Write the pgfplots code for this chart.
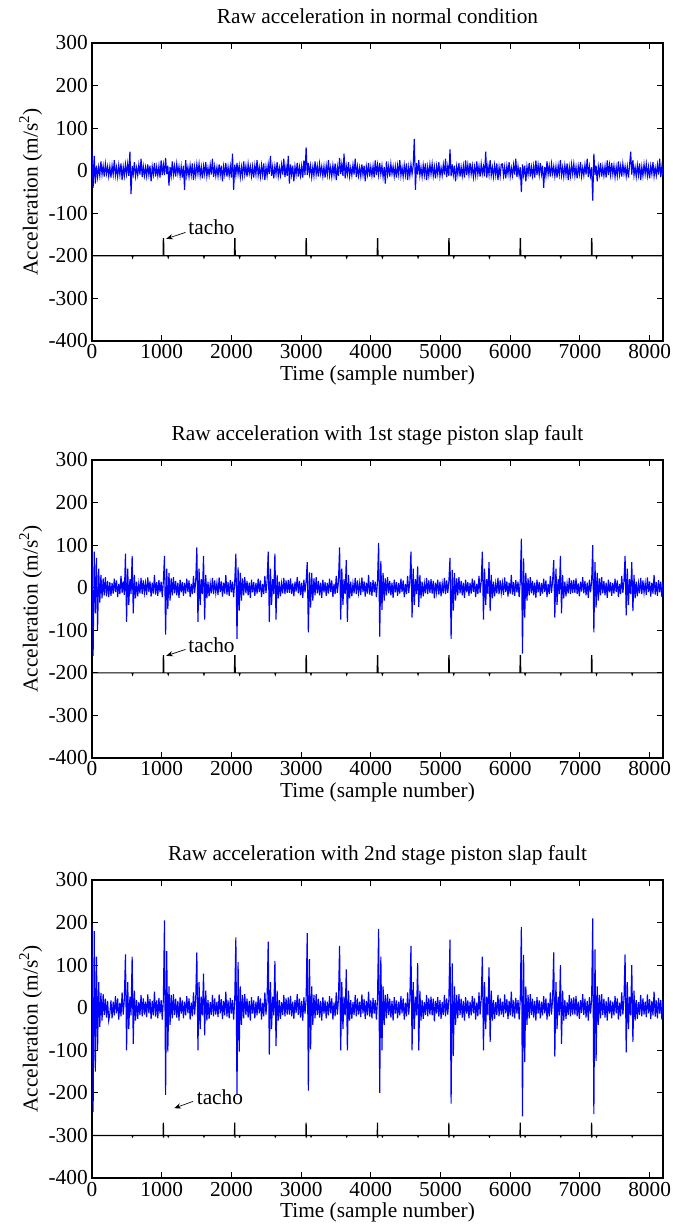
\documentclass[border=0pt]{standalone}
\usepackage{pgfplots}
\pgfplotsset{compat=1.18}
\usepackage{pgfplotstable}
\usepackage{fontspec}
\setmainfont{Liberation Serif}
\usetikzlibrary{arrows.meta}

% signal values, one every 16 samples (x = 16 * index)
\pgfplotstableread[row sep=\\]{y\\
50\\-40\\35\\-30\\12\\-15\\9\\-12\\22\\-9\\11\\-14\\16\\-7\\10\\-13\\
10\\-16\\12\\-9\\25\\-11\\8\\-14\\13\\-10\\17\\-22\\9\\-12\\15\\-8\\
16\\-12\\45\\-55\\11\\-8\\20\\-13\\7\\-11\\14\\-9\\28\\-15\\10\\-12\\
8\\-13\\15\\-10\\12\\-25\\10\\-9\\18\\-14\\9\\-12\\11\\-16\\24\\-10\\
14\\-10\\30\\-8\\12\\-35\\9\\-12\\22\\-9\\11\\-14\\16\\-7\\10\\-13\\
10\\-16\\12\\-45\\25\\-11\\8\\-14\\13\\-10\\17\\-22\\9\\-12\\15\\-8\\
16\\-12\\9\\-18\\11\\-8\\20\\-13\\7\\-11\\14\\-9\\28\\-15\\10\\-12\\
8\\-13\\15\\-10\\12\\-25\\10\\-9\\18\\-14\\9\\-12\\11\\-16\\40\\-45\\
14\\-10\\18\\-8\\12\\-15\\9\\-12\\22\\-9\\11\\-14\\16\\-7\\10\\-13\\
10\\-16\\12\\-9\\25\\-11\\8\\-14\\13\\-10\\17\\-22\\9\\-12\\15\\-8\\
35\\-12\\9\\-18\\11\\-8\\20\\-13\\7\\-11\\14\\-9\\28\\-15\\10\\-12\\
35\\-30\\15\\-10\\12\\-25\\10\\-9\\18\\-14\\9\\-12\\11\\-16\\24\\-10\\
55\\-10\\18\\-8\\12\\-15\\9\\-12\\22\\-9\\11\\-14\\16\\-7\\10\\-13\\
10\\-16\\12\\-9\\25\\-11\\8\\-14\\13\\-10\\17\\-22\\9\\-12\\30\\-8\\
16\\-12\\40\\-18\\11\\-8\\20\\-13\\7\\-11\\14\\-9\\28\\-15\\10\\-12\\
8\\-13\\15\\-10\\12\\-25\\10\\-9\\18\\-14\\9\\-12\\11\\-16\\24\\-10\\
14\\-10\\18\\-8\\12\\-15\\9\\-30\\22\\-9\\11\\-14\\16\\-7\\10\\-13\\
10\\-16\\12\\-9\\25\\-11\\8\\-14\\13\\-10\\17\\-22\\9\\-12\\15\\-8\\
12\\75\\-45\\18\\-9\\25\\-11\\8\\-14\\13\\-10\\17\\-22\\9\\-12\\15\\
-8\\16\\-12\\9\\-18\\11\\-8\\20\\-13\\7\\-11\\14\\-9\\28\\-15\\10\\
-12\\50\\-13\\15\\-10\\12\\-25\\10\\-9\\18\\-14\\9\\-12\\11\\-16\\24\\
-10\\14\\-10\\18\\-8\\12\\-15\\9\\-12\\22\\-9\\11\\-14\\16\\-7\\10\\
-13\\45\\-16\\12\\-9\\25\\-11\\8\\-14\\13\\-10\\17\\-22\\9\\-12\\15\\
16\\-12\\9\\-18\\11\\-8\\20\\-13\\7\\-11\\14\\-9\\28\\-15\\10\\-12\\
8\\-50\\15\\-10\\12\\-25\\10\\-9\\18\\-14\\9\\-12\\11\\-16\\24\\-10\\
14\\-10\\18\\-8\\12\\-40\\9\\-12\\22\\-9\\11\\-14\\16\\-7\\10\\-13\\
10\\-16\\12\\-9\\25\\-11\\8\\-14\\13\\-10\\17\\-22\\9\\-12\\15\\-8\\
16\\-12\\9\\-18\\11\\-8\\20\\-13\\7\\-11\\14\\-9\\28\\-15\\10\\-12\\
8\\-70\\40\\-10\\12\\-25\\10\\-9\\18\\-14\\9\\-12\\11\\-16\\24\\-10\\
14\\-10\\18\\-8\\12\\-15\\9\\-12\\22\\-9\\11\\-14\\16\\-7\\10\\-13\\
10\\-16\\12\\45\\-9\\25\\-11\\8\\-14\\13\\-10\\17\\-22\\9\\-12\\15\\
-8\\16\\-12\\9\\-18\\11\\-8\\20\\-13\\7\\-11\\14\\-9\\28\\-15\\10\\
-12\\}\sigA

\pgfplotstableread[row sep=\\]{y\\
90\\-160\\85\\-60\\70\\-100\\45\\-35\\30\\-25\\22\\-18\\25\\-20\\16\\-22\\
13\\-19\\11\\-14\\21\\-10\\17\\-22\\9\\-15\\28\\-12\\15\\-17\\80\\-80\\
45\\-40\\20\\-15\\75\\-60\\30\\-25\\14\\-20\\10\\-13\\23\\-15\\17\\-12\\
11\\-17\\24\\-10\\15\\-21\\12\\-14\\30\\-16\\13\\-19\\18\\-11\\14\\-22\\
15\\75\\-110\\45\\-50\\35\\-30\\22\\-18\\25\\-13\\16\\-18\\12\\-24\\19\\
-11\\13\\-19\\11\\-14\\21\\-10\\17\\-22\\9\\-15\\28\\-12\\15\\95\\-80\\
45\\-40\\20\\-15\\75\\-75\\30\\-25\\14\\-20\\10\\-13\\23\\-15\\17\\-12\\
11\\-17\\24\\-10\\15\\-21\\12\\-14\\30\\-16\\13\\-19\\18\\-11\\14\\-22\\
15\\80\\-120\\48\\-54\\35\\-30\\22\\-18\\25\\-13\\16\\-18\\12\\-24\\19\\
-11\\13\\-19\\11\\-14\\21\\-10\\17\\-22\\9\\-15\\28\\-12\\15\\85\\-80\\
45\\-40\\20\\-15\\80\\-75\\30\\-25\\14\\-20\\10\\-13\\23\\-15\\17\\-12\\
18\\-12\\22\\-15\\10\\-20\\14\\-9\\25\\-13\\16\\-18\\12\\-24\\19\\-11\\
15\\60\\-105\\36\\-47\\35\\-30\\22\\-18\\25\\-13\\16\\-18\\12\\-24\\19\\
-11\\13\\-19\\11\\-14\\21\\-10\\17\\-22\\9\\-15\\28\\-12\\15\\95\\-75\\
45\\-40\\20\\-15\\65\\-80\\30\\-25\\14\\-20\\10\\-13\\23\\-15\\17\\-12\\
11\\-17\\24\\-10\\15\\-21\\12\\-14\\30\\-16\\13\\-19\\18\\-11\\14\\-22\\
15\\105\\-115\\63\\-52\\35\\-30\\22\\-18\\25\\-13\\16\\-18\\12\\-24\\19\\
-11\\13\\-19\\11\\-14\\21\\-10\\17\\-22\\9\\-15\\28\\-12\\15\\85\\-70\\
45\\-40\\20\\-15\\50\\-45\\30\\-25\\14\\-20\\10\\-13\\23\\-15\\17\\-12\\
20\\-14\\16\\-25\\12\\-11\\19\\-16\\14\\-20\\10\\-13\\23\\-15\\17\\-12\\
15\\70\\-120\\42\\-54\\35\\-30\\22\\-18\\25\\-13\\16\\-18\\12\\-24\\19\\
-11\\13\\-19\\11\\-14\\21\\-10\\17\\-22\\9\\-15\\28\\-12\\15\\85\\-75\\
45\\-40\\20\\-15\\60\\-55\\30\\-25\\14\\-20\\10\\-13\\23\\-15\\17\\-12\\
11\\-17\\24\\-10\\15\\-21\\12\\-14\\30\\-16\\13\\-19\\18\\-11\\14\\-22\\
15\\115\\-155\\69\\-70\\35\\-30\\22\\-18\\25\\-13\\16\\-18\\12\\-24\\19\\
-11\\13\\-19\\11\\-14\\21\\-10\\17\\-22\\9\\-15\\28\\-12\\15\\65\\-70\\
45\\-40\\20\\-15\\75\\-60\\30\\-25\\14\\-20\\10\\-13\\23\\-15\\17\\-12\\
18\\-12\\22\\-15\\10\\-20\\14\\-9\\25\\-13\\16\\-18\\12\\-24\\19\\-11\\
15\\100\\-105\\60\\-47\\35\\-30\\22\\-18\\25\\-13\\16\\-18\\12\\-24\\19\\
-11\\13\\-19\\11\\-14\\21\\-10\\17\\-22\\9\\-15\\28\\-12\\15\\75\\-65\\
45\\-40\\20\\-15\\60\\-55\\30\\-25\\14\\-20\\10\\-13\\23\\-15\\17\\-12\\
11\\-17\\24\\-10\\15\\-21\\12\\-14\\30\\-16\\13\\-19\\18\\-11\\14\\-22\\
15\\}\sigB

\pgfplotstableread[row sep=\\]{y\\
195\\-245\\180\\-150\\120\\-100\\60\\-45\\35\\-30\\32\\-17\\21\\-23\\16\\-30\\
-14\\17\\-25\\14\\-18\\27\\-13\\22\\-28\\12\\-20\\36\\-16\\20\\125\\-100\\
60\\-50\\26\\-18\\120\\-85\\40\\-30\\18\\-26\\13\\-17\\30\\-20\\22\\-16\\
14\\-22\\31\\-13\\20\\-27\\16\\-18\\38\\-21\\17\\-25\\23\\-14\\18\\-28\\
20\\205\\-205\\133\\-103\\50\\-40\\30\\-25\\32\\-17\\21\\-23\\16\\-30\\25\\
-14\\17\\-25\\14\\-18\\27\\-13\\22\\-28\\12\\-20\\36\\-16\\20\\130\\-100\\
60\\-50\\26\\-18\\80\\-65\\40\\-30\\18\\-26\\13\\-17\\30\\-20\\22\\-16\\
14\\-22\\31\\-13\\20\\-27\\16\\-18\\38\\-21\\17\\-25\\23\\-14\\18\\-28\\
20\\165\\-205\\107\\-103\\50\\-40\\30\\-25\\32\\-17\\21\\-23\\16\\-30\\25\\
-14\\17\\-25\\14\\-18\\27\\-13\\22\\-28\\12\\-20\\36\\-16\\20\\155\\-110\\
60\\-50\\26\\-18\\110\\-90\\40\\-30\\18\\-26\\13\\-17\\30\\-20\\22\\-16\\
24\\-16\\28\\-20\\14\\-26\\18\\-12\\32\\-17\\21\\-23\\16\\-30\\25\\-14\\
20\\175\\-195\\114\\-98\\50\\-40\\30\\-25\\32\\-17\\21\\-23\\16\\-30\\25\\
-14\\17\\-25\\14\\-18\\27\\-13\\22\\-28\\12\\-20\\36\\-16\\20\\145\\-100\\
60\\-50\\26\\-18\\90\\-100\\40\\-30\\18\\-26\\13\\-17\\30\\-20\\22\\-16\\
14\\-22\\31\\-13\\20\\-27\\16\\-18\\38\\-21\\17\\-25\\23\\-14\\18\\-28\\
20\\185\\-200\\120\\-100\\50\\-40\\30\\-25\\32\\-17\\21\\-23\\16\\-30\\25\\
-14\\17\\-25\\14\\-18\\27\\-13\\22\\-28\\12\\-20\\36\\-16\\20\\145\\-100\\
60\\-50\\26\\-18\\105\\-100\\40\\-30\\18\\-26\\13\\-17\\30\\-20\\22\\-16\\
26\\-18\\21\\-32\\16\\-14\\25\\-21\\18\\-26\\13\\-17\\30\\-20\\22\\-16\\
20\\160\\-225\\104\\-113\\50\\-40\\30\\-25\\32\\-17\\21\\-23\\16\\-30\\25\\
-14\\17\\-25\\14\\-18\\27\\-13\\22\\-28\\12\\-20\\36\\-16\\20\\120\\-100\\
60\\-50\\26\\-18\\95\\-80\\40\\-30\\18\\-26\\13\\-17\\30\\-20\\22\\-16\\
14\\-22\\31\\-13\\20\\-27\\16\\-18\\38\\-21\\17\\-25\\23\\-14\\18\\-28\\
20\\190\\-255\\124\\-128\\50\\-40\\30\\-25\\32\\-17\\21\\-23\\16\\-30\\25\\
-14\\17\\-25\\14\\-18\\27\\-13\\22\\-28\\12\\-20\\36\\-16\\20\\130\\-115\\
60\\-50\\26\\-18\\100\\-85\\40\\-30\\18\\-26\\13\\-17\\30\\-20\\22\\-16\\
24\\-16\\28\\-20\\14\\-26\\18\\-12\\32\\-17\\21\\-23\\16\\-30\\25\\-14\\
20\\210\\-250\\137\\-125\\50\\-40\\30\\-25\\32\\-17\\21\\-23\\16\\-30\\25\\
-14\\17\\-25\\14\\-18\\27\\-13\\22\\-28\\12\\-20\\36\\-16\\20\\125\\-105\\
60\\-50\\26\\-18\\100\\-80\\40\\-30\\18\\-26\\13\\-17\\30\\-20\\22\\-16\\
14\\-22\\31\\-13\\20\\-27\\16\\-18\\38\\-21\\17\\-25\\23\\-14\\18\\-28\\
20\\}\sigC

\definecolor{mblue}{RGB}{0,0,255}

\pgfplotsset{
  raw/.style={
    scale only axis, width=428.25pt, height=223.5pt,
    xmin=0, xmax=8192, ymin=-400, ymax=300,
    xtick={0,1000,2000,3000,4000,5000,6000,7000,8000},
    xticklabels={0,1000,2000,3000,4000,5000,6000,7000,8000},
    ytick={-400,-300,-200,-100,0,100,200,300},
    yticklabels={-400,-300,-200,-100,0,100,200,300},
    scaled x ticks=false, scaled y ticks=false,
    tick align=inside, major tick length=4.5pt,
    axis line style={line width=0.8pt},
    every tick/.style={black, line width=0.8pt},
    font=\fontsize{16}{19}\selectfont,
    xticklabel style={anchor=base, yshift=-13.5pt, inner sep=0pt},
    yticklabel style={anchor=east, xshift=-3pt, inner sep=0pt},
    xlabel={Time (sample number)},
    ylabel={Acceleration (m/s\textsuperscript{2})},
    xlabel style={at={(axis description cs:0.5,-0.1342)}, anchor=base, inner sep=0pt},
    ylabel style={at={(axis description cs:-0.1074,0.5)}, anchor=center, inner sep=0pt},
    title style={at={(axis description cs:0.5,1.037)}, anchor=base, inner sep=0pt},
    sig/.style={mblue, line width=0.85pt},
    tach/.style={black, line width=0.9pt},
  }
}

\begin{document}
\begin{tikzpicture}
\useasboundingbox (0,0) rectangle (504pt,920.25pt);

% ---------- normal condition ----------
\begin{axis}[raw, at={(69pt,664.5pt)}, anchor=south west,
  title={Raw acceleration in normal condition}]
\addplot[sig] table[x expr=\coordindex*16, y=y] {\sigA};
\addplot[tach] coordinates {(0,-200)
(574,-200)(582,-204)(590,-200)
(1020,-200)(1024,-160)(1027,-160)(1031,-200)
(1086,-200)(1094,-204)(1102,-200)
(1598,-200)(1606,-204)(1614,-200)
(2044,-200)(2048,-160)(2051,-160)(2055,-200)
(2110,-200)(2118,-204)(2126,-200)
(2622,-200)(2630,-204)(2638,-200)
(3068,-200)(3072,-160)(3075,-160)(3079,-200)
(3134,-200)(3142,-204)(3150,-200)
(3646,-200)(3654,-204)(3662,-200)
(4092,-200)(4096,-160)(4099,-160)(4103,-200)
(4158,-200)(4166,-204)(4174,-200)
(4670,-200)(4678,-204)(4686,-200)
(5116,-200)(5120,-160)(5123,-160)(5127,-200)
(5182,-200)(5190,-204)(5198,-200)
(5694,-200)(5702,-204)(5710,-200)
(6140,-200)(6144,-160)(6147,-160)(6151,-200)
(6206,-200)(6214,-204)(6222,-200)
(6718,-200)(6726,-204)(6734,-200)
(7164,-200)(7168,-160)(7171,-160)(7175,-200)
(7230,-200)(7238,-204)(7246,-200)
(7742,-200)(7750,-204)(7758,-200)
(8192,-200)};
\draw[-{Stealth[length=5pt,width=4pt]}, line width=0.5pt] (axis cs:1340,-145) -- (axis cs:1065,-160);
\node[anchor=west, inner sep=0pt] at (axis cs:1380,-133) {tacho};
\end{axis}

% ---------- 1st stage fault ----------
\begin{axis}[raw, at={(69pt,351.75pt)}, anchor=south west,
  title={Raw acceleration with 1st stage piston slap fault}]
\addplot[sig] table[x expr=\coordindex*16, y=y] {\sigB};
\addplot[tach] coordinates {(0,-200)
(574,-200)(582,-204)(590,-200)
(1020,-200)(1024,-160)(1027,-160)(1031,-200)
(1086,-200)(1094,-204)(1102,-200)
(1598,-200)(1606,-204)(1614,-200)
(2044,-200)(2048,-160)(2051,-160)(2055,-200)
(2110,-200)(2118,-204)(2126,-200)
(2622,-200)(2630,-204)(2638,-200)
(3068,-200)(3072,-160)(3075,-160)(3079,-200)
(3134,-200)(3142,-204)(3150,-200)
(3646,-200)(3654,-204)(3662,-200)
(4092,-200)(4096,-160)(4099,-160)(4103,-200)
(4158,-200)(4166,-204)(4174,-200)
(4670,-200)(4678,-204)(4686,-200)
(5116,-200)(5120,-160)(5123,-160)(5127,-200)
(5182,-200)(5190,-204)(5198,-200)
(5694,-200)(5702,-204)(5710,-200)
(6140,-200)(6144,-160)(6147,-160)(6151,-200)
(6206,-200)(6214,-204)(6222,-200)
(6718,-200)(6726,-204)(6734,-200)
(7164,-200)(7168,-160)(7171,-160)(7175,-200)
(7230,-200)(7238,-204)(7246,-200)
(7742,-200)(7750,-204)(7758,-200)
(8192,-200)};
\draw[-{Stealth[length=5pt,width=4pt]}, line width=0.5pt] (axis cs:1340,-145) -- (axis cs:1065,-160);
\node[anchor=west, inner sep=0pt] at (axis cs:1380,-136) {tacho};
\end{axis}

% ---------- 2nd stage fault ----------
\begin{axis}[raw, at={(69pt,36.75pt)}, anchor=south west,
  title={Raw acceleration with 2nd stage piston slap fault}]
\addplot[sig] table[x expr=\coordindex*16, y=y] {\sigC};
\addplot[tach] coordinates {(0,-300)
(574,-300)(582,-303)(590,-300)
(1020,-300)(1024,-270)(1026,-305)(1030,-300)
(1086,-300)(1094,-303)(1102,-300)
(1598,-300)(1606,-303)(1614,-300)
(2044,-300)(2048,-270)(2050,-305)(2054,-300)
(2110,-300)(2118,-303)(2126,-300)
(2622,-300)(2630,-303)(2638,-300)
(3068,-300)(3072,-270)(3074,-305)(3078,-300)
(3134,-300)(3142,-303)(3150,-300)
(3646,-300)(3654,-303)(3662,-300)
(4092,-300)(4096,-270)(4098,-305)(4102,-300)
(4158,-300)(4166,-303)(4174,-300)
(4670,-300)(4678,-303)(4686,-300)
(5116,-300)(5120,-270)(5122,-305)(5126,-300)
(5182,-300)(5190,-303)(5198,-300)
(5694,-300)(5702,-303)(5710,-300)
(6140,-300)(6144,-270)(6146,-305)(6150,-300)
(6206,-300)(6214,-303)(6222,-300)
(6718,-300)(6726,-303)(6734,-300)
(7164,-300)(7168,-270)(7170,-305)(7174,-300)
(7230,-300)(7238,-303)(7246,-300)
(7742,-300)(7750,-303)(7758,-300)
(8192,-300)};
\draw[-{Stealth[length=5pt,width=4pt]}, line width=0.5pt] (axis cs:1450,-220) -- (axis cs:1180,-236);
\node[anchor=west, inner sep=0pt] at (axis cs:1500,-211) {tacho};
\end{axis}
\end{tikzpicture}
\end{document}
